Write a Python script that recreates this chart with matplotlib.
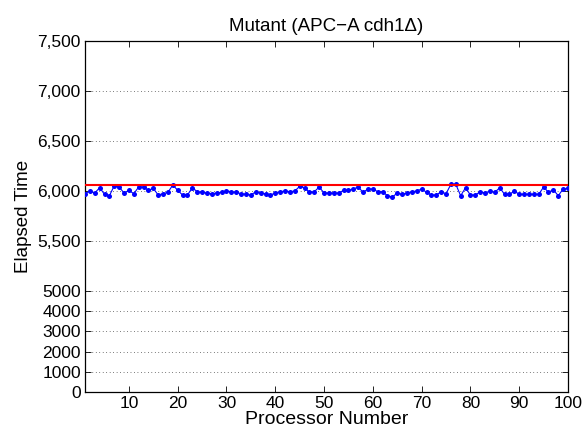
import numpy as np
import matplotlib
matplotlib.use("Agg")
import matplotlib.pyplot as plt

plt.rcParams['font.family'] = ['Liberation Sans', 'DejaVu Sans']

processors = list(range(1, 101))
elapsed = [5973, 6000, 5980, 6033, 5967, 5953, 6053, 6040, 5980, 6007,
           5973, 6040, 6040, 6007, 6027, 5960, 5973, 5987, 6060, 6007,
           5960, 5960, 6033, 5993, 5987, 5980, 5973, 5980, 5987, 6000,
           5993, 5987, 5973, 5967, 5960, 5993, 5980, 5973, 5960, 5980,
           5993, 6000, 5993, 6000, 6047, 6033, 5987, 5993, 6040, 5980,
           5980, 5980, 5980, 6007, 6007, 6020, 6040, 5987, 6020, 6020,
           5993, 5993, 5953, 5940, 5980, 5967, 5980, 5993, 6000, 6020,
           5987, 5960, 5960, 5993, 5973, 6067, 6067, 5953, 6033, 5960,
           5960, 5993, 5980, 6000, 5987, 6033, 5967, 5967, 6000, 5967,
           5967, 5967, 5967, 5967, 6040, 5987, 6013, 5953, 6020, 6027]
reference_level = 6062

ytick_values = [0, 1000, 2000, 3000, 4000, 5000, 5500, 6000, 6500, 7000, 7500]
ytick_labels = ['0', '1000', '2000', '3000', '4000', '5000',
                '5,500', '6,000', '6,500', '7,000', '7,500']
xtick_values = [10, 20, 30, 40, 50, 60, 70, 80, 90, 100]


def fwd(y):
    y = np.asarray(y, dtype=float)
    return np.where(y <= 5000, y * 0.02, 100 + (y - 5000) * 0.1)


def inv(t):
    t = np.asarray(t, dtype=float)
    return np.where(t <= 100, t / 0.02, 5000 + (t - 100) / 0.1)


fig = plt.figure(figsize=(5.84, 4.40), dpi=100)
ax = fig.add_axes([85 / 584, 1 - 391.7 / 440, (568 - 85) / 584, (391.7 - 40.5) / 440])
ax.set_yscale('function', functions=(fwd, inv))

ax.plot(processors, elapsed, color='#0000ff', lw=0.8, marker='o', ms=3.6,
        markeredgewidth=0, zorder=3)
ax.axhline(reference_level, color='#ff0000', lw=1.5, zorder=4)

ax.set_xlim(1, 100)
ax.set_ylim(0, 7500)
ax.set_xticks(xtick_values)
ax.set_yticks(ytick_values)
ax.set_yticklabels(ytick_labels)
ax.tick_params(direction='in', top=True, right=True, labelsize=12.5, length=4,
               width=0.6, pad=3)
ax.minorticks_off()
for y in ytick_values[1:-1]:
    ax.axhline(y, color='black', lw=0.5, ls=(0, (1, 4)), zorder=1)
for s in ax.spines.values():
    s.set_linewidth(0.9)

ax.set_xlabel('Processor Number', fontsize=14, labelpad=0)
ax.set_ylabel('Elapsed Time', fontsize=13.5, labelpad=4)
ax.set_title('Mutant (APC\u2212A cdh1\u0394)', fontsize=13.5, pad=7)

fig.savefig('out.png', dpi=100)
